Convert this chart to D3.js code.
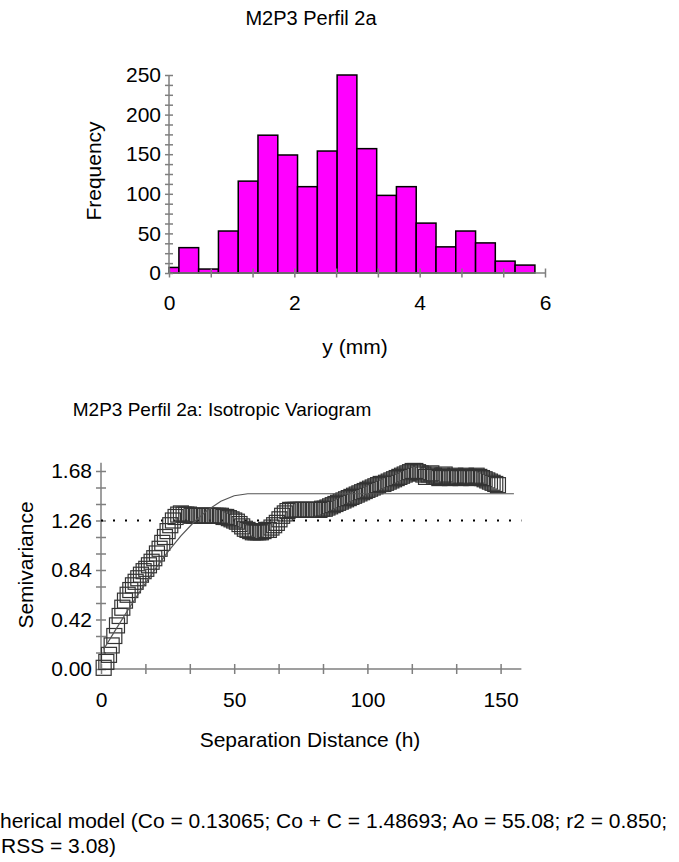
<!DOCTYPE html>
<html><head><meta charset="utf-8">
<script src="https://cdn.jsdelivr.net/npm/d3@7"></script>
<style>
html,body{margin:0;padding:0;background:#fff;}
svg{display:block;}
text{font-family:"Liberation Sans",Arial,sans-serif;fill:#000;}
</style></head><body>
<svg id="c" width="679" height="862"></svg>
<script>
// ---------- Histogram data ----------
const histTitle = "M2P3 Perfil 2a";
const histEdges = [0,0.158,0.473,0.789,1.105,1.420,1.736,2.051,2.367,2.683,2.998,3.314,3.629,3.945,4.261,4.576,4.892,5.207,5.523,5.839];
const histCounts = [7,32,5,53,116,174,149,109,154,250,157,98,109,63,33,53,38,15,10];
const histXTicks = [0,2,4,6];
const histYTicks = [0,50,100,150,200,250];

// ---------- Variogram data ----------
const varTitle = "M2P3 Perfil 2a: Isotropic Variogram";
const lagDist = [1,2,3,4,5,6,7,8,9,10,11,12,13,14,15,16,17,18,19,20,21,22,23,24,25,26,27,28,29,30,
31,32,33,34,35,36,37,38,39,40,41,42,43,44,45,46,47,48,49,50,51,52,53,54,55,56,57,58,59,60,
61,62,63,64,65,66,67,68,69,70,71,72,73,74,75,76,77,78,79,80,81,82,83,84,85,86,87,88,89,90,
91,92,93,94,95,96,97,98,99,100,101,102,103,104,105,106,107,108,109,110,111,112,113,114,115,116,117,118,119,120,
121,122,123,124,125,126,127,128,129,130,131,132,133,134,135,136,137,138,139,140,141,142,143,144,145,146,147,148,149];
const semivariance = [0.01,0.06,0.12,0.20,0.28,0.37,0.45,0.52,0.58,0.63,
0.67,0.71,0.74,0.77,0.80,0.83,0.85,0.88,0.91,0.94,
0.98,1.02,1.07,1.12,1.17,1.22,1.26,1.29,1.31,1.32,
1.31,1.31,1.31,1.30,1.30,1.30,1.30,1.30,1.30,1.30,
1.30,1.30,1.30,1.30,1.30,1.29,1.29,1.28,1.27,1.26,
1.25,1.23,1.21,1.19,1.18,1.17,1.16,1.16,1.16,1.16,
1.17,1.18,1.18,1.20,1.22,1.24,1.27,1.30,1.32,1.34,
1.35,1.35,1.35,1.35,1.35,1.35,1.35,1.35,1.35,1.35,
1.35,1.35,1.36,1.36,1.37,1.38,1.39,1.40,1.41,1.42,
1.43,1.44,1.45,1.46,1.47,1.48,1.49,1.50,1.51,1.52,
1.53,1.54,1.55,1.56,1.57,1.57,1.58,1.59,1.60,1.61,
1.62,1.63,1.64,1.65,1.66,1.67,1.68,1.68,1.67,1.66,
1.65,1.63,1.65,1.66,1.64,1.63,1.62,1.64,1.65,1.63,
1.62,1.63,1.64,1.63,1.62,1.63,1.64,1.63,1.62,1.63,
1.64,1.63,1.62,1.61,1.60,1.59,1.58,1.57,1.56];
// fitted spherical model line (sampled)
const modelDist = [1,5,10,15,20,25,30,35,40,45,50,55.08,155];
const modelGamma = [0.168,0.315,0.496,0.671,0.837,0.991,1.129,1.249,1.348,1.423,1.470,1.487,1.487];
const sampleVariance = 1.26;
const varXTicks = [0,50,100,150];
const varYTicks = [0.00,0.42,0.84,1.26,1.68];
const modelText1 = "Spherical model (Co = 0.13065; Co + C = 1.48693; Ao = 55.08; r2 = 0.850;";
const modelText2 = "RSS = 3.08)";

const svg = d3.select("#c");
const FS = 21;
const AX = "#7f7f7f";

function styleAxis(g){
  g.select(".domain").remove();
  g.selectAll(".tick line").attr("stroke",AX).attr("stroke-width",1.5);
  g.selectAll(".tick text").style("font-size",FS+"px").attr("fill","#000");
}
function crossLeft(g,half){ g.selectAll(".tick line").attr("x1",half).attr("x2",-half); }
function crossBottom(g,half){ g.selectAll(".tick line").attr("y1",-half).attr("y2",half); }

// ================= Histogram =================
const hx = d3.scaleLinear().domain([0,6]).range([169,545]);
const hy = d3.scaleLinear().domain([0,250]).range([273,75]);

svg.append("g").selectAll("rect").data(histCounts).join("rect")
  .attr("x",(d,i)=>hx(histEdges[i]))
  .attr("width",(d,i)=>hx(histEdges[i+1])-hx(histEdges[i]))
  .attr("y",d=>hy(d))
  .attr("height",d=>hy(0)-hy(d))
  .attr("fill","#ff00ff").attr("stroke","#000").attr("stroke-width",1.5);

svg.append("line").attr("x1",hx(0)).attr("x2",hx(0)).attr("y1",hy(0)).attr("y2",hy(250))
  .attr("stroke",AX).attr("stroke-width",1.5);
svg.append("line").attr("x1",hx(0)).attr("x2",hx(6)).attr("y1",hy(0)).attr("y2",hy(0))
  .attr("stroke",AX).attr("stroke-width",1.5);

const hyMinor = d3.range(0,251,12.5);
let g = svg.append("g").attr("transform",`translate(${hx(0)},0)`)
  .call(d3.axisLeft(hy).tickValues(hyMinor).tickSize(8).tickFormat(""));
styleAxis(g); crossLeft(g,4);
g = svg.append("g").attr("transform",`translate(${hx(0)},0)`)
  .call(d3.axisLeft(hy).tickValues(histYTicks).tickSize(0).tickPadding(8).tickFormat(d3.format("d")));
styleAxis(g);
const hxMinor = d3.range(0,10).map(i=>i*2/3);
g = svg.append("g").attr("transform",`translate(0,${hy(0)})`)
  .call(d3.axisBottom(hx).tickValues(hxMinor).tickSize(9).tickFormat(""));
styleAxis(g); crossBottom(g,4.5);
g = svg.append("g").attr("transform",`translate(0,${hy(0)})`)
  .call(d3.axisBottom(hx).tickValues(histXTicks).tickSize(0).tickPadding(22).tickFormat(d3.format("d")));
styleAxis(g);

svg.append("text").attr("x",311).attr("y",25).attr("text-anchor","middle")
  .style("font-size","20px").text(histTitle);
svg.append("text").attr("x",355).attr("y",354).attr("text-anchor","middle")
  .style("font-size",FS+"px").text("y (mm)");
svg.append("text").attr("transform","translate(101,171) rotate(-90)").attr("text-anchor","middle")
  .style("font-size",FS+"px").text("Frequency");

// ================= Variogram =================
const vx = d3.scaleLinear().domain([0,150]).range([101,500.6]);
const vy = d3.scaleLinear().domain([0,1.68]).range([669,471]);

svg.append("line").attr("x1",vx(0)).attr("x2",vx(0)).attr("y1",vy(0)).attr("y2",vy(1.75))
  .attr("stroke",AX).attr("stroke-width",1.5);
svg.append("line").attr("x1",vx(0)).attr("x2",vx(157.8)).attr("y1",vy(0)).attr("y2",vy(0))
  .attr("stroke",AX).attr("stroke-width",1.5);

g = svg.append("g").attr("transform",`translate(${vx(0)},0)`)
  .call(d3.axisLeft(vy).tickValues(d3.range(0,13).map(i=>i*0.14)).tickSize(10).tickFormat(""));
styleAxis(g); crossLeft(g,5);
g = svg.append("g").attr("transform",`translate(${vx(0)},0)`)
  .call(d3.axisLeft(vy).tickValues(varYTicks).tickSize(0).tickPadding(9).tickFormat(d3.format(".2f")));
styleAxis(g);
g = svg.append("g").attr("transform",`translate(0,${vy(0)})`)
  .call(d3.axisBottom(vx).tickValues(d3.range(0,10).map(i=>i*50/3)).tickSize(10).tickFormat(""));
styleAxis(g); crossBottom(g,5);
g = svg.append("g").attr("transform",`translate(0,${vy(0)})`)
  .call(d3.axisBottom(vx).tickValues(varXTicks).tickSize(0).tickPadding(23).tickFormat(d3.format("d")));
styleAxis(g);

// sill (sample variance) dotted line
svg.append("line").attr("x1",vx(0)).attr("x2",vx(157.8))
  .attr("y1",vy(sampleVariance)).attr("y2",vy(sampleVariance))
  .attr("stroke","#000").attr("stroke-width",2).attr("stroke-dasharray","2,10");

// points (squares)
const SQ = 15;
svg.append("g").selectAll("rect").data(lagDist).join("rect")
  .attr("x",(d)=>vx(d)-SQ/2).attr("y",(d,i)=>vy(semivariance[i])-SQ/2)
  .attr("width",SQ).attr("height",SQ)
  .attr("fill","none").attr("stroke","#333").attr("stroke-width",1.2);

// model line
svg.append("path")
  .attr("d",d3.line().x((d)=>vx(d)).y((d,i)=>vy(modelGamma[i]))(modelDist))
  .attr("fill","none").attr("stroke","#555").attr("stroke-width",1.2);

svg.append("text").attr("x",222).attr("y",416).attr("text-anchor","middle")
  .style("font-size","19px").text(varTitle);
svg.append("text").attr("x",310).attr("y",747).attr("text-anchor","middle")
  .style("font-size",FS+"px").text("Separation Distance (h)");
svg.append("text").attr("transform","translate(33,565) rotate(-90)").attr("text-anchor","middle")
  .style("font-size",FS+"px").text("Semivariance");

// model caption (left part cut off by page edge)
const t1 = svg.append("text").attr("y",828).style("font-size",FS+"px").text(modelText1);
const tmp = svg.append("text").style("font-size",FS+"px").text("Sp");
const spW = tmp.node().getComputedTextLength(); tmp.remove();
t1.attr("x",-spW);
svg.append("text").attr("x",1).attr("y",853).style("font-size",FS+"px").text(modelText2);
</script>
</body></html>
